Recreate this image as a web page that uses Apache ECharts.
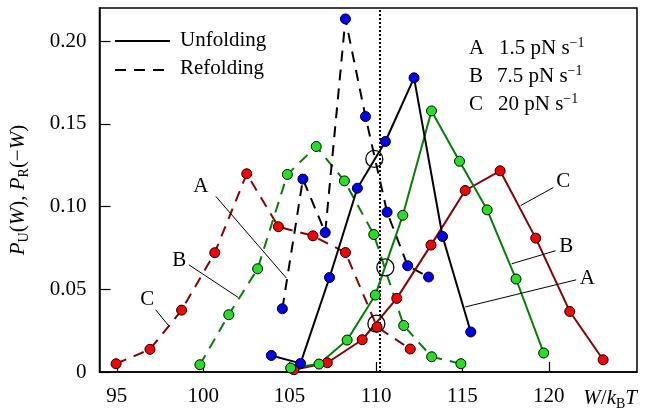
<!DOCTYPE html>
<html>
<head>
<meta charset="utf-8">
<script src="https://cdn.jsdelivr.net/npm/echarts@6/dist/echarts.min.js"></script>
<style>html,body{margin:0;padding:0;background:#fff}#c{width:647px;height:416px}</style>
</head>
<body>
<div id="c"></div>
<script>
// ---- data (W in kBT, probability) ----
const unfoldA_W = [103.94, 105.63, 107.31, 108.92, 110.54, 112.20, 113.85, 115.48];
const unfoldA_P = [0.010, 0.0052, 0.0571, 0.1111, 0.1393, 0.1778, 0.0819, 0.0242];
const refoldA_W = [104.58, 105.77, 107.06, 108.23, 109.39, 110.64, 111.83, 113.04];
const refoldA_P = [0.0382, 0.1166, 0.0843, 0.2134, 0.1544, 0.0966, 0.0642, 0.0574];
const unfoldB_W = [105.06, 106.70, 108.33, 109.96, 111.55, 113.21, 114.83, 116.43, 118.10, 119.70];
const unfoldB_P = [0.0024, 0.0048, 0.0193, 0.0465, 0.0947, 0.1578, 0.1274, 0.0980, 0.0562, 0.0115];
const refoldB_W = [99.81, 101.48, 103.15, 104.87, 106.54, 108.17, 109.87, 111.60, 113.22, 114.91];
const refoldB_P = [0.0044, 0.0346, 0.0624, 0.1194, 0.1363, 0.1155, 0.0831, 0.0281, 0.0092, 0.0050];
const unfoldC_W = [105.25, 107.18, 109.20, 111.20, 113.18, 115.16, 117.18, 119.24, 121.21, 123.14];
const unfoldC_P = [0.0014, 0.0056, 0.0195, 0.0445, 0.0767, 0.1097, 0.1216, 0.0809, 0.0366, 0.0074];
const refoldC_W = [94.96, 96.92, 98.75, 100.67, 102.52, 104.35, 106.35, 108.23, 110.06, 111.98];
const refoldC_P = [0.0050, 0.0137, 0.0374, 0.0721, 0.1198, 0.0878, 0.0823, 0.0722, 0.0272, 0.0139];
const crossW = [109.90, 110.54, 110.02];
const crossP = [0.1288, 0.0632, 0.0292];
const dottedW = 110.23;
const xTicks = [95, 100, 105, 110, 115, 120];
const yTicks = [0, 0.05, 0.10, 0.15, 0.20];
// annotation labels and leader lines (data units)
const annText = ['A', 'B', 'C', 'C', 'B', 'A'];
const annTextW = [99.86, 98.62, 96.77, 120.83, 121.01, 122.22];
const annTextP = [0.1121, 0.0674, 0.0437, 0.1151, 0.0759, 0.0564];
const annLines = [
  [[100.73, 0.1061], [104.81, 0.0568]],
  [[99.17, 0.0648], [102.02, 0.0451]],
  [[97.25, 0.0376], [98.04, 0.0275]],
  [[120.26, 0.1115], [118.37, 0.1006]],
  [[120.39, 0.0733], [117.85, 0.0654]],
  [[121.58, 0.0557], [115.16, 0.0393]]
];

const FONT = 'Liberation Serif';
const zip = (a, b) => a.map((v, i) => [v, b[i]]);
const DASH = [11, 8];

function curve(name, W, P, lineColor, fill, dashed) {
  return {
    type: 'line', name, data: zip(W, P),
    symbol: 'circle', symbolSize: 10,
    lineStyle: {color: lineColor, width: 2, type: dashed ? DASH : 'solid'},
    itemStyle: {color: fill, borderColor: '#000', borderWidth: 1, opacity: 1},
    emphasis: {disabled: true},
    z: 3, animation: false
  };
}

const series = [
  curve('refoldC', refoldC_W, refoldC_P, '#8b0000', '#ff0000', true),
  curve('refoldB', refoldB_W, refoldB_P, '#008000', '#22e022', true),
  curve('refoldA', refoldA_W, refoldA_P, '#000000', '#0000ff', true),
  curve('unfoldC', unfoldC_W, unfoldC_P, '#8b0000', '#ff0000', false),
  curve('unfoldB', unfoldB_W, unfoldB_P, '#008000', '#22e022', false),
  curve('unfoldA', unfoldA_W, unfoldA_P, '#000000', '#0000ff', false),
  {
    type: 'scatter', data: zip(crossW, crossP), symbol: 'circle', symbolSize: 17,
    itemStyle: {color: 'rgba(0,0,0,0)', borderColor: '#000', borderWidth: 1.3, opacity: 1},
    emphasis: {disabled: true}, z: 5, animation: false
  },
  {
    type: 'line', data: zip([dottedW, dottedW], [0, 0.22]), symbol: 'none',
    lineStyle: {color: '#000', width: 2, type: [2, 2]}, z: 2, animation: false
  }
];
annLines.forEach(l => series.push({
  type: 'line', data: l, symbol: 'none',
  lineStyle: {color: '#000', width: 1}, z: 4, animation: false
}));

const supRich = {n: {fontFamily: FONT, fontSize: 21, lineHeight: 24, fill: '#000'},
                 p: {fontFamily: FONT, fontSize: 14, lineHeight: 14, verticalAlign: 'top', fill: '#000'}};
const graphic = [
  {type: 'line', shape: {x1: 115, y1: 41, x2: 170, y2: 41}, style: {stroke: '#000', lineWidth: 2}},
  {type: 'line', shape: {x1: 115, y1: 70, x2: 170, y2: 70}, style: {stroke: '#000', lineWidth: 2, lineDash: DASH}},
  {type: 'text', x: 180, y: 40, style: {text: 'Unfolding', font: '21px "Liberation Serif"', fill: '#000', verticalAlign: 'middle'}},
  {type: 'text', x: 180, y: 68, style: {text: 'Refolding', font: '21px "Liberation Serif"', fill: '#000', verticalAlign: 'middle'}},
  {type: 'text', x: 469, y: 48, style: {text: 'A', font: '21px "Liberation Serif"', fill: '#000', verticalAlign: 'middle'}},
  {type: 'text', x: 469, y: 76, style: {text: 'B', font: '21px "Liberation Serif"', fill: '#000', verticalAlign: 'middle'}},
  {type: 'text', x: 469, y: 104, style: {text: 'C', font: '21px "Liberation Serif"', fill: '#000', verticalAlign: 'middle'}},
  {type: 'text', x: 499, y: 48, style: {text: '{n|1.5 pN s}{p|−1}', verticalAlign: 'middle', rich: supRich}},
  {type: 'text', x: 497, y: 76, style: {text: '{n|7.5 pN s}{p|−1}', verticalAlign: 'middle', rich: supRich}},
  {type: 'text', x: 498, y: 104, style: {text: '{n|20 pN s}{p|−1}', verticalAlign: 'middle', rich: supRich}},
  {type: 'text', right: 10, y: 398, style: {text: '{i|W}{n|/}{i|k}{s|B}{i|T}', verticalAlign: 'middle',
    rich: {n: {fontFamily: FONT, fontSize: 21, lineHeight: 26, fill: '#000'},
           i: {fontFamily: FONT, fontSize: 21, fontStyle: 'italic', lineHeight: 26, fill: '#000'},
           s: {fontFamily: FONT, fontSize: 14, lineHeight: 14, verticalAlign: 'bottom', fill: '#000'}}}}
];

const chart = echarts.init(document.getElementById('c'), null, {renderer: 'canvas'});
chart.setOption({
  backgroundColor: '#fff',
  animation: false,
  grid: {left: 98, right: 10, top: 8, bottom: 44, show: true, borderColor: '#000', borderWidth: 1.5, backgroundColor: 'transparent'},
  xAxis: {
    type: 'value', min: 94, max: 125.1,
    axisLine: {show: true, onZero: false, lineStyle: {color: '#000', width: 1.5}},
    axisTick: {show: true, inside: true, length: 10, customValues: xTicks, lineStyle: {color: '#000', width: 1.2}},
    axisLabel: {customValues: xTicks, margin: 14, fontFamily: FONT, fontSize: 21, color: '#000'},
    splitLine: {show: false}
  },
  yAxis: {
    type: 'value', min: 0, max: 0.22,
    axisLine: {show: true, lineStyle: {color: '#000', width: 1.5}},
    axisTick: {show: true, inside: true, length: 11, customValues: yTicks, lineStyle: {color: '#000', width: 1.2}},
    axisLabel: {customValues: yTicks, margin: 13, fontFamily: FONT, fontSize: 21, color: '#000',
      formatter: v => v === 0 ? '0' : v.toFixed(2)},
    splitLine: {show: false},
    name: '{i|P}{s|U}{n|(}{i|W}{n|), }{i|P}{s|R}{n|(−}{i|W}{n|)}',
    nameLocation: 'middle', nameRotate: 90, nameGap: 68,
    nameTextStyle: {
      rich: {
        n: {fontFamily: FONT, fontSize: 21, color: '#000', lineHeight: 26},
        i: {fontFamily: FONT, fontSize: 21, fontStyle: 'italic', color: '#000', lineHeight: 26},
        s: {fontFamily: FONT, fontSize: 14, color: '#000', verticalAlign: 'bottom', lineHeight: 14}
      }
    }
  },
  series,
  graphic
});
// place the A/B/C curve annotations at their data positions
const annGraphic = annText.map((t, i) => {
  const pt = chart.convertToPixel({gridIndex: 0}, [annTextW[i], annTextP[i]]);
  return {type: 'text', x: pt[0], y: pt[1], z: 10,
    style: {text: t, font: '21px "Liberation Serif"', fill: '#000', align: 'center', verticalAlign: 'middle'}};
});
chart.setOption({graphic: graphic.concat(annGraphic)});
</script>
</body>
</html>
